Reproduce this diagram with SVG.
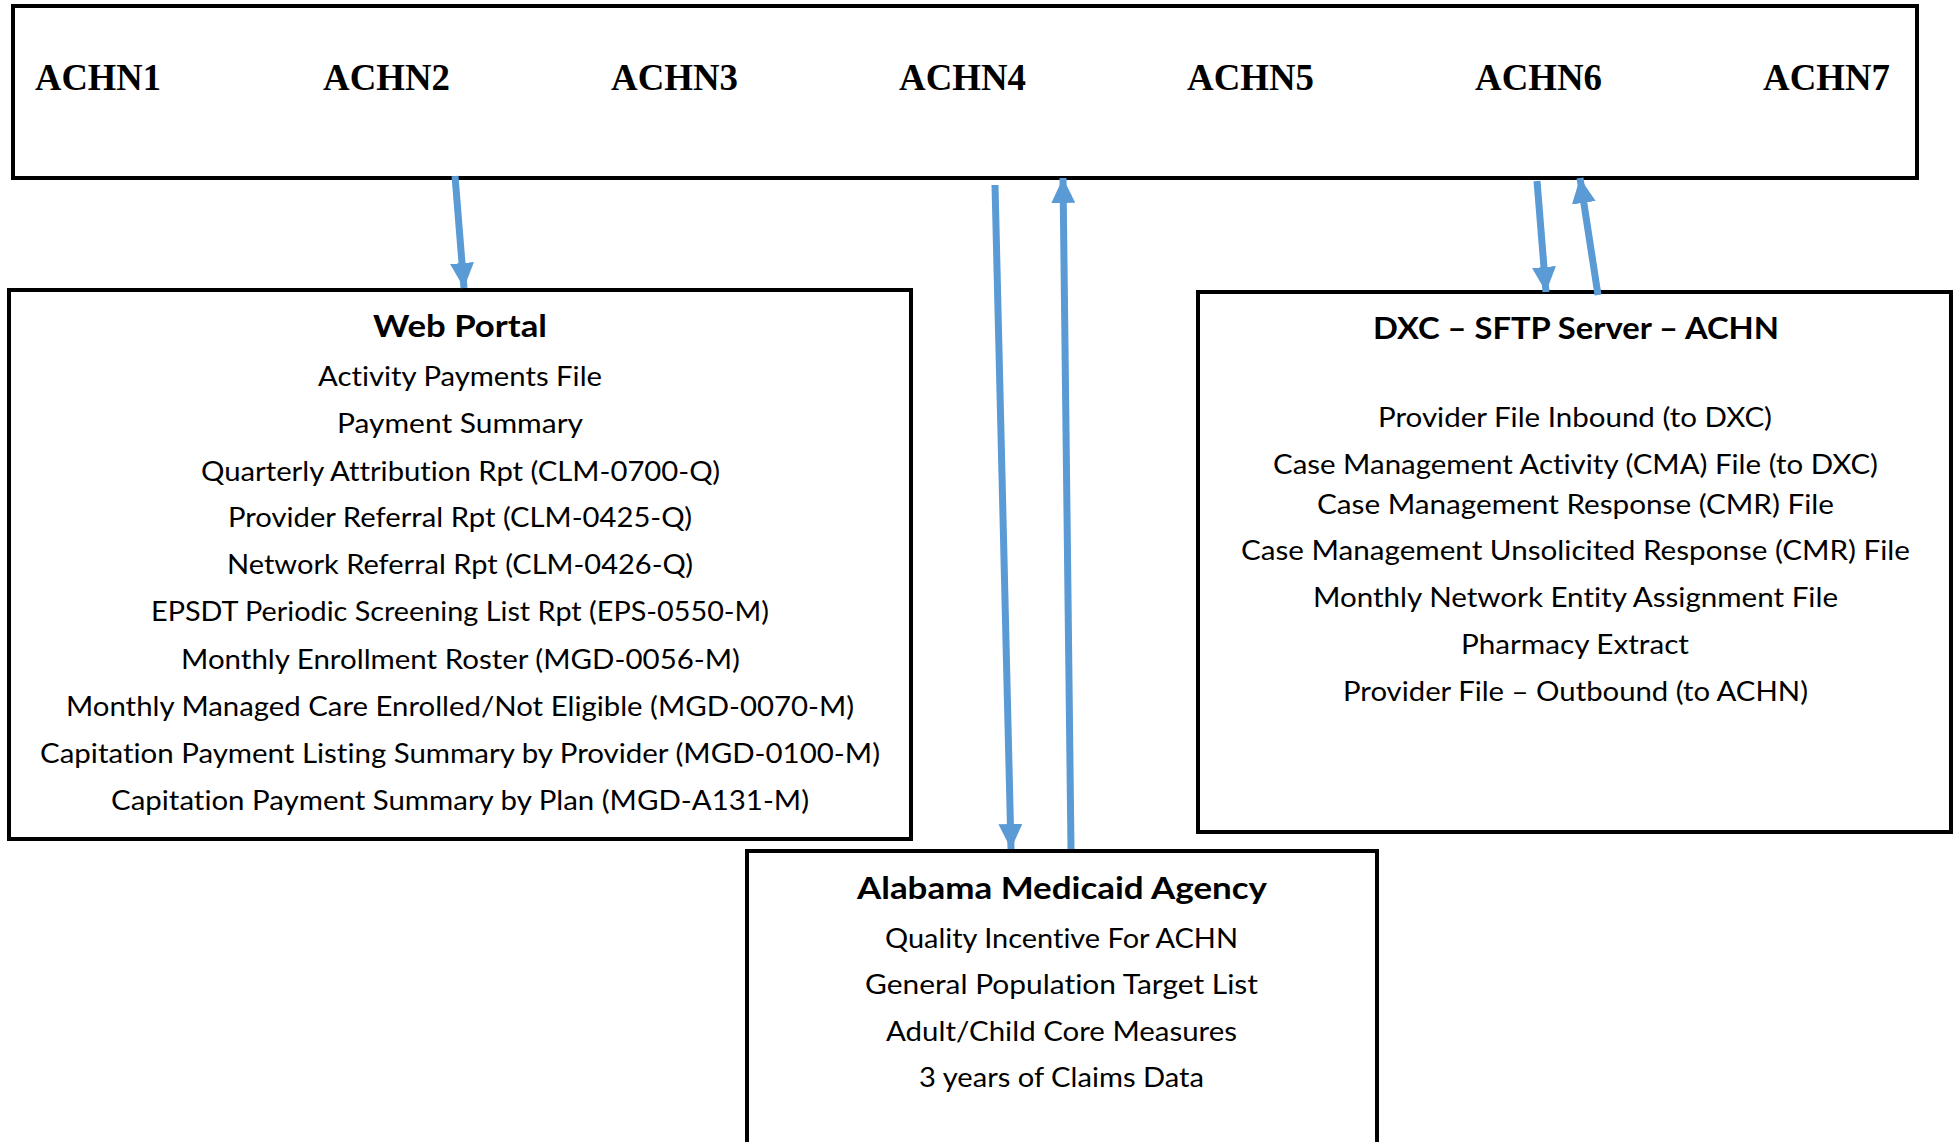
<svg xmlns="http://www.w3.org/2000/svg" width="1955" height="1142" viewBox="0 0 1955 1142">
<style>
.box{fill:#fff;stroke:#000;stroke-width:4}
.achn{font-family:"Liberation Serif","Times New Roman",serif;font-weight:bold;font-size:37px;fill:#000}
.t{font-family:Lato,"Liberation Sans",sans-serif;font-size:27px;fill:#000;font-variant-ligatures:none}
.h{font-family:Lato,"Liberation Sans",sans-serif;font-weight:bold;font-size:31px;fill:#000;font-variant-ligatures:none}
.arr{stroke:#5B9BD5;stroke-width:7;fill:none;marker-end:url(#ah)}
</style>
<defs>
<marker id="ah" markerUnits="userSpaceOnUse" markerWidth="26" markerHeight="24" viewBox="0 0 26 24" refX="25" refY="12" orient="auto">
<path d="M0,0 L25,12 L0,24 Z" fill="#5B9BD5"/>
</marker>
</defs>
<rect width="1955" height="1142" fill="#fff"/>
<g id="achn-bar">
<rect class="box" x="13" y="6" width="1904" height="172"/>
<text class="achn" x="35" y="90" textLength="126" lengthAdjust="spacingAndGlyphs">ACHN1</text>
<text class="achn" x="323" y="90" textLength="127" lengthAdjust="spacingAndGlyphs">ACHN2</text>
<text class="achn" x="611" y="90" textLength="127" lengthAdjust="spacingAndGlyphs">ACHN3</text>
<text class="achn" x="899" y="90" textLength="127" lengthAdjust="spacingAndGlyphs">ACHN4</text>
<text class="achn" x="1187" y="90" textLength="127" lengthAdjust="spacingAndGlyphs">ACHN5</text>
<text class="achn" x="1475" y="90" textLength="127" lengthAdjust="spacingAndGlyphs">ACHN6</text>
<text class="achn" x="1763" y="90" textLength="127" lengthAdjust="spacingAndGlyphs">ACHN7</text>
</g>
<g id="web-portal">
<rect class="box" x="9" y="290" width="902" height="549"/>
<text class="h" x="373" y="337" textLength="174" lengthAdjust="spacingAndGlyphs">Web Portal</text>
<text class="t" x="318" y="386" textLength="284" lengthAdjust="spacingAndGlyphs">Activity Payments File</text>
<text class="t" x="337" y="433" textLength="246" lengthAdjust="spacingAndGlyphs">Payment Summary</text>
<text class="t" x="201" y="481" textLength="519" lengthAdjust="spacingAndGlyphs">Quarterly Attribution Rpt (CLM-0700-Q)</text>
<text class="t" x="228" y="527" textLength="464" lengthAdjust="spacingAndGlyphs">Provider Referral Rpt (CLM-0425-Q)</text>
<text class="t" x="227" y="574" textLength="466" lengthAdjust="spacingAndGlyphs">Network Referral Rpt (CLM-0426-Q)</text>
<text class="t" x="151" y="621" textLength="618" lengthAdjust="spacingAndGlyphs">EPSDT Periodic Screening List Rpt (EPS-0550-M)</text>
<text class="t" x="181" y="669" textLength="559" lengthAdjust="spacingAndGlyphs">Monthly Enrollment Roster (MGD-0056-M)</text>
<text class="t" x="66" y="716" textLength="788" lengthAdjust="spacingAndGlyphs">Monthly Managed Care Enrolled/Not Eligible (MGD-0070-M)</text>
<text class="t" x="40" y="763" textLength="840" lengthAdjust="spacingAndGlyphs">Capitation Payment Listing Summary by Provider (MGD-0100-M)</text>
<text class="t" x="111" y="810" textLength="698" lengthAdjust="spacingAndGlyphs">Capitation Payment Summary by Plan (MGD-A131-M)</text>
</g>
<g id="dxc-sftp">
<rect class="box" x="1198" y="292" width="753" height="540"/>
<text class="h" x="1373" y="339" textLength="406" lengthAdjust="spacingAndGlyphs">DXC – SFTP Server – ACHN</text>
<text class="t" x="1378" y="427" textLength="394" lengthAdjust="spacingAndGlyphs">Provider File Inbound (to DXC)</text>
<text class="t" x="1273" y="474" textLength="605" lengthAdjust="spacingAndGlyphs">Case Management Activity (CMA) File (to DXC)</text>
<text class="t" x="1317" y="514" textLength="517" lengthAdjust="spacingAndGlyphs">Case Management Response (CMR) File</text>
<text class="t" x="1241" y="560" textLength="669" lengthAdjust="spacingAndGlyphs">Case Management Unsolicited Response (CMR) File</text>
<text class="t" x="1313" y="607" textLength="525" lengthAdjust="spacingAndGlyphs">Monthly Network Entity Assignment File</text>
<text class="t" x="1461" y="654" textLength="228" lengthAdjust="spacingAndGlyphs">Pharmacy Extract</text>
<text class="t" x="1343" y="701" textLength="465" lengthAdjust="spacingAndGlyphs">Provider File – Outbound (to ACHN)</text>
</g>
<g id="alabama-medicaid">
<rect class="box" x="747" y="851" width="630" height="300"/>
<text class="h" x="857" y="899" textLength="410" lengthAdjust="spacingAndGlyphs">Alabama Medicaid Agency</text>
<text class="t" x="885" y="948" textLength="353" lengthAdjust="spacingAndGlyphs">Quality Incentive For ACHN</text>
<text class="t" x="865" y="994" textLength="393" lengthAdjust="spacingAndGlyphs">General Population Target List</text>
<text class="t" x="886" y="1041" textLength="351" lengthAdjust="spacingAndGlyphs">Adult/Child Core Measures</text>
<text class="t" x="919" y="1087" textLength="285" lengthAdjust="spacingAndGlyphs">3 years of Claims Data</text>
</g>
<g id="connectors">
<line class="arr" x1="455" y1="176" x2="464" y2="288"/>
<line class="arr" x1="995" y1="185" x2="1011" y2="849"/>
<line class="arr" x1="1071" y1="849" x2="1063" y2="178"/>
<line class="arr" x1="1537" y1="181" x2="1546" y2="292"/>
<line class="arr" x1="1598" y1="295" x2="1580" y2="178"/>
</g>
</svg>
